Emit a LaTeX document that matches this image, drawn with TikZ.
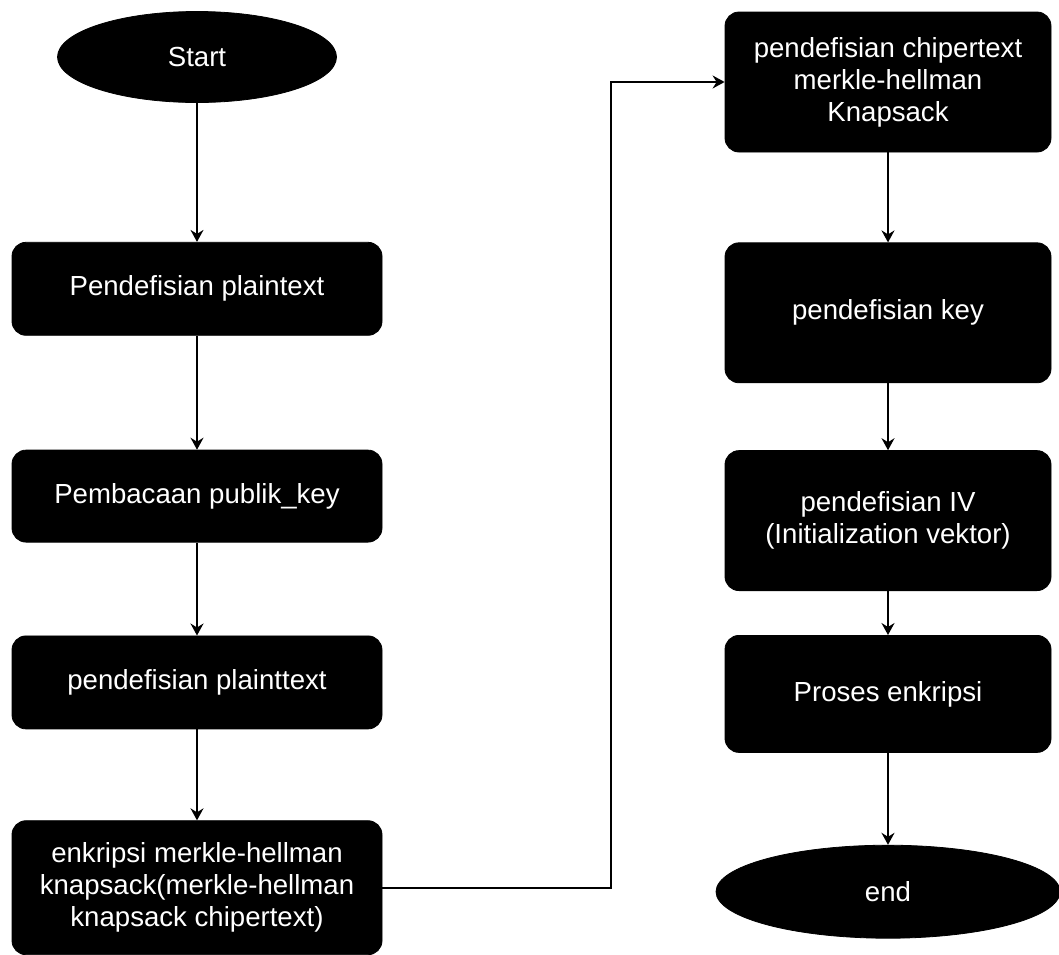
\documentclass[tikz,border=0pt]{standalone}
\usepackage{fontspec}
\setmainfont{Liberation Sans}
\usetikzlibrary{arrows.meta,positioning,shapes.geometric}

\begin{document}
\begin{tikzpicture}[
  box/.style={draw, fill=black, text=white, rounded corners=7pt, align=center,
    font=\fontsize{13.8}{16}\selectfont, minimum width=185pt, inner sep=3pt},
  rbox/.style={box, minimum width=163pt, minimum height=70pt},
  term/.style={draw, fill=black, text=white, ellipse, inner sep=0pt,
    font=\fontsize{13.8}{16}\selectfont},
  arr/.style={-{Stealth[length=6pt,width=6.5pt,inset=2pt]}, line width=0.9pt}
]
\useasboundingbox (0,0) rectangle (529.5pt,-477pt);
\node[term, minimum width=139.5pt, minimum height=45.5pt] (start) at (98.5pt,-28.5pt) {Start};
\node[box, minimum height=46.5pt, below=69.5pt of start] (plain) {Pendefisian plaintext};
\node[box, minimum height=46pt, below=57pt of plain] (pubkey) {Pembacaan publik\_key};
\node[box, minimum height=46.5pt, below=46.5pt of pubkey] (plain2) {pendefisian plainttext};
\node[box, minimum height=67pt, below=45.5pt of plain2] (encmh) {enkripsi merkle-hellman\\knapsack(merkle-hellman\\knapsack chipertext)};
\node[rbox] (cipher) at (444pt,-41pt) {pendefisian chipertext\\merkle-hellman\\Knapsack};
\node[rbox, below=45pt of cipher] (key) {pendefisian key};
\node[rbox, below=33.5pt of key] (iv) {pendefisian IV\\(Initialization vektor)};
\node[rbox, minimum height=58.5pt, below=22pt of iv] (proc) {Proses enkripsi};
\node[term, minimum width=172pt, minimum height=46.5pt, below=46pt of proc] (end) {end};
\coordinate (bend) at (305.5pt,0);
\draw[arr] (start) -- (plain);
\draw[arr] (plain) -- (pubkey);
\draw[arr] (pubkey) -- (plain2);
\draw[arr] (plain2) -- (encmh);
\draw[arr] (encmh.east) -- (encmh.east -| bend) -- (bend |- cipher.west) -- (cipher.west);
\draw[arr] (cipher) -- (key);
\draw[arr] (key) -- (iv);
\draw[arr] (iv) -- (proc);
\draw[arr] (proc) -- (end);
\end{tikzpicture}
\end{document}
